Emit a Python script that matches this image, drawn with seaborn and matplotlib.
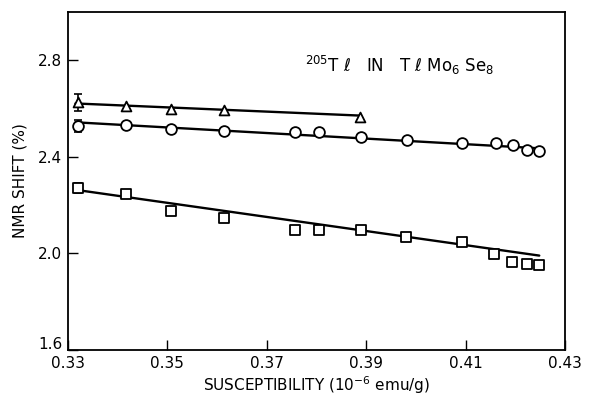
import numpy as np
import pandas as pd
import seaborn as sns
import matplotlib.pyplot as plt
import matplotlib.transforms as mtransforms

# susceptibility (1e-6 emu/g) and NMR shift (%)
tri_x = [0.3320, 0.3417, 0.3507, 0.3614, 0.3887]
tri_y = [2.626, 2.609, 2.597, 2.593, 2.566]

circ_x = [0.3320, 0.3417, 0.3507, 0.3614, 0.3757, 0.3805, 0.3890,
          0.3982, 0.4093, 0.4161, 0.4195, 0.4224, 0.4248]
circ_y = [2.526, 2.530, 2.514, 2.505, 2.501, 2.501, 2.481,
          2.468, 2.456, 2.456, 2.448, 2.427, 2.423]

sq_x = [0.3320, 0.3417, 0.3507, 0.3614, 0.3757, 0.3805, 0.3890,
        0.3980, 0.4093, 0.4157, 0.4193, 0.4223, 0.4248]
sq_y = [2.271, 2.246, 2.176, 2.147, 2.098, 2.098, 2.098,
        2.069, 2.049, 1.999, 1.966, 1.958, 1.950]

# drawn straight lines (end points)
tri_line_x = [0.3315, 0.3885]
tri_line_y = [2.621, 2.571]
circ_line_x = [0.3315, 0.4250]
circ_line_y = [2.543, 2.435]
sq_line_x = [0.3320, 0.4248]
sq_line_y = [2.262, 1.991]

# error bar on the first point of each set
err = [0.035, 0.025, 0.022]

sns.set_style("ticks", {'axes.edgecolor': 'black', 'text.color': 'black',
                        'xtick.color': 'black', 'ytick.color': 'black',
                        'axes.labelcolor': 'black'})
plt.rcParams['font.family'] = ['DejaVu Sans']
plt.rcParams['mathtext.fontset'] = 'dejavusans'

fig = plt.figure(figsize=(5.98, 3.98), dpi=100)
ax = fig.add_axes([0.1137, 0.1206, 0.8313, 0.8494])

for lx, ly in [(tri_line_x, tri_line_y), (circ_line_x, circ_line_y), (sq_line_x, sq_line_y)]:
    sns.lineplot(x=lx, y=ly, color='black', lw=1.7, ax=ax, zorder=2)

sets = [(tri_x, tri_y, '^', 50), (circ_x, circ_y, 'o', 60), (sq_x, sq_y, 's', 42)]
for (xs, ys, mk, size), e in zip(sets, err):
    ax.errorbar(xs[0], ys[0], yerr=e, fmt='none', ecolor='black',
                elinewidth=1.2, capsize=3, capthick=1.2, zorder=2)
    sns.scatterplot(x=xs, y=ys, marker=mk, s=size, facecolor='white',
                    edgecolor='black', linewidth=1.3, ax=ax, zorder=3)

ax.set_xlim(0.33, 0.43)
ax.set_ylim(1.6, 3.0)
ax.set_xticks(np.arange(0.33, 0.431, 0.02))
ax.set_xticklabels(['0.33', '0.35', '0.37', '0.39', '0.41', '0.43'])
ax.set_yticks([1.6, 2.0, 2.4, 2.8])
ax.set_yticklabels(['1.6', '2.0', '2.4', '2.8'])
ax.tick_params(direction='in', length=7, width=1, labelsize=11, pad=4)
for s in ax.spines.values():
    s.set_linewidth(1.3)

# lift the 1.6 label so it clears 0.33
lab = ax.get_yticklabels()[0]
lab.set_transform(lab.get_transform() + mtransforms.ScaledTranslation(0, 5 / 72, fig.dpi_scale_trans))

ax.set_xlabel(r'SUSCEPTIBILITY (10$^{-6}$ emu/g)', fontsize=11, labelpad=3)
ax.set_ylabel('NMR SHIFT (%)', fontsize=11, labelpad=8)

ax.text(0.3776, 2.78, r'$^{205}$T $\ell$   IN   T $\ell$ Mo$_6$ Se$_8$', fontsize=12,
        ha='left', va='center')

fig.savefig('out.png', dpi=100)
